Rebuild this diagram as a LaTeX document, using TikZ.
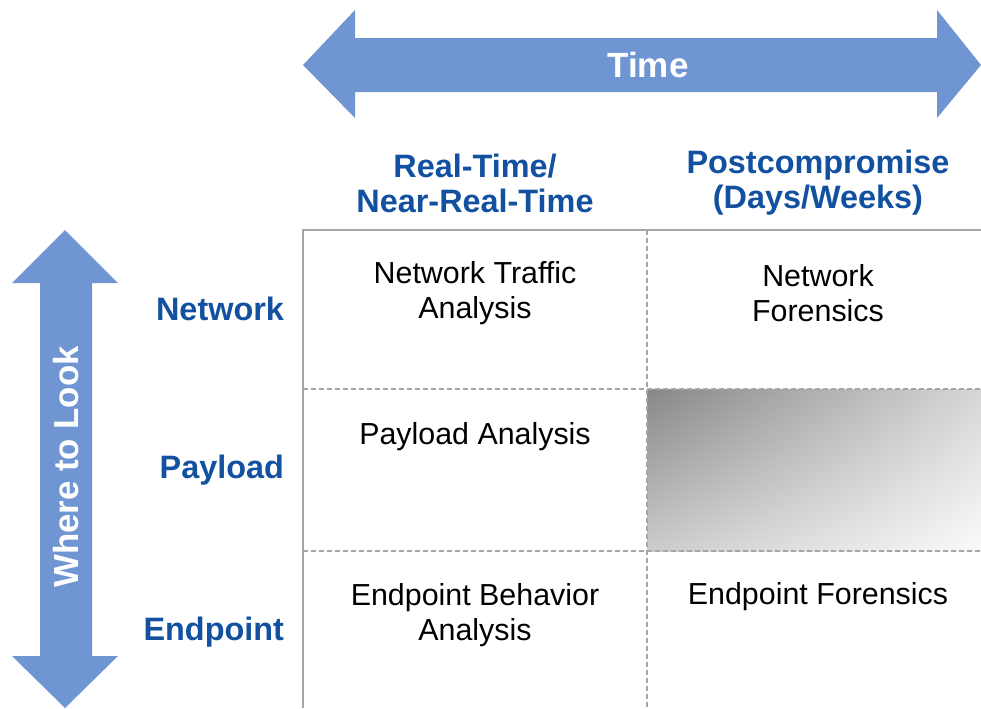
\documentclass[tikz,border=0pt]{standalone}
\usepackage{fontspec}
\usetikzlibrary{shadings}
\setmainfont{Liberation Sans}
\definecolor{arrowblue}{HTML}{6F96D3}
\definecolor{labelblue}{HTML}{1250A0}
\definecolor{gridgray}{HTML}{A6A6A6}
\tikzset{
  arrowshape/.style={fill=arrowblue, draw=none},
  arrowtext/.style={text=white, font=\bfseries\fontsize{17.5}{22}\selectfont},
  rowlabel/.style={text=labelblue, font=\bfseries\fontsize{16.2}{17.5}\selectfont, anchor=east},
  colhead/.style={text=labelblue, font=\bfseries\fontsize{16.2}{17.5}\selectfont, align=center},
  celltext/.style={text=black, font=\fontsize{15.2}{17.5}\selectfont, align=center},
  solidgrid/.style={draw=gridgray, line width=0.8pt},
  dashgrid/.style={draw=gridgray, line width=0.9pt, dash pattern=on 2.5pt off 1.5pt},
}
\begin{document}
\begin{tikzpicture}[x=0.5pt, y=-0.5pt]
\useasboundingbox (0,0) rectangle (981,708);
% Time arrow
\fill[arrowshape] (303,65) -- (355,10) -- (355,38) -- (937,38) -- (937,10) -- (981,65)
  -- (937,118) -- (937,92) -- (355,92) -- (355,118) -- cycle;
\node[arrowtext] (time) at (648,65) {Time};
% Where to look arrow
\fill[arrowshape] (65,230) -- (118,283) -- (92,283) -- (92,656) -- (118,656) -- (65,708)
  -- (12,656) -- (40,656) -- (40,283) -- (12,283) -- cycle;
\node[arrowtext, rotate=90, font=\bfseries\fontsize{17.4}{20}\selectfont] (where) at (66,467) {Where to Look};
% gradient cell
\shade[upper left=black!47, upper right=black!16, lower left=black!20, lower right=black!2] (647,389) rectangle (981,551);
% grid
\draw[solidgrid] (981,230) -- (303,230) -- (303,708);
\draw[dashgrid] (647,230) -- (647,708);
\draw[dashgrid] (303,389) -- (981,389);
\draw[dashgrid] (303,551) -- (981,551);
% column headers
\node[colhead] (h1) at (475,183) {Real-Time/\\Near-Real-Time};
\node[colhead] (h2) at (818,183) {Postcompromise\\(Days/Weeks)};
% row labels
\node[rowlabel] (r1) at (291,309) {Network};
\node[rowlabel] (r2) at (291,470) {Payload};
\node[rowlabel] (r3) at (291,632) {Endpoint};
% cells
\node[celltext] (c11) at (475,293) {Network Traffic\\Analysis};
\node[celltext] (c12) at (818,293) {Network\\Forensics};
\node[celltext] (c21) at (475,437) {Payload Analysis};
\node[celltext] (c31) at (475,615) {Endpoint Behavior\\Analysis};
\node[celltext] (c32) at (818,597) {Endpoint Forensics};
\end{tikzpicture}
\end{document}
